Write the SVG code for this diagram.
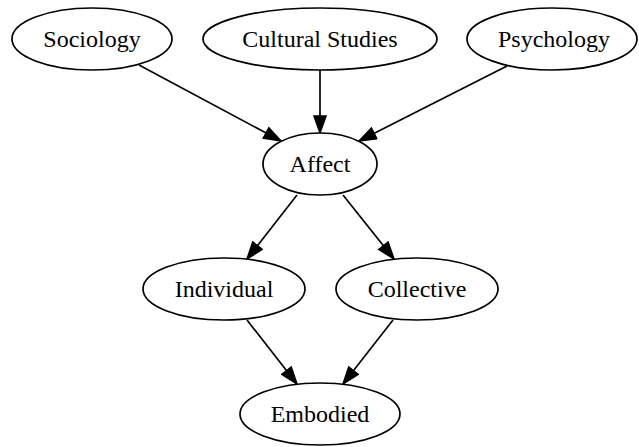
<svg xmlns="http://www.w3.org/2000/svg" width="639" height="447" viewBox="0 0 639 447">
<style>
.node ellipse{fill:#fff;stroke:#000;stroke-width:1.7}
.node text{font-family:"Liberation Serif","Times New Roman",serif;font-size:24px;text-anchor:middle;fill:#000}
.edges line{stroke:#000;stroke-width:1.7;marker-end:url(#arr)}
</style>
<defs>
<marker id="arr" markerUnits="userSpaceOnUse" markerWidth="20" markerHeight="14" viewBox="0 0 18 14" refX="17" refY="7" orient="auto">
<path d="M0,1 L17,7 L0,13 Z" fill="#000" stroke="#000" stroke-width="1.5"/>
</marker>
</defs>
<rect width="639" height="447" fill="#fff"/>
<g class="edges">
<line x1="139" y1="65" x2="281" y2="141"/>
<line x1="320" y1="70" x2="320" y2="133"/>
<line x1="507" y1="66" x2="359" y2="141"/>
<line x1="297" y1="195" x2="247" y2="259"/>
<line x1="343" y1="195" x2="394" y2="259"/>
<line x1="247" y1="320" x2="297" y2="384"/>
<line x1="393" y1="320" x2="343" y2="384"/>
</g>
<g class="node" id="sociology"><ellipse cx="92" cy="39" rx="80" ry="31"/><text x="92" y="47">Sociology</text></g>
<g class="node" id="cultural"><ellipse cx="320" cy="39" rx="117" ry="31"/><text x="320" y="47">Cultural Studies</text></g>
<g class="node" id="psychology"><ellipse cx="552" cy="39" rx="85" ry="31"/><text x="554" y="47">Psychology</text></g>
<g class="node" id="affect"><ellipse cx="320" cy="164" rx="57" ry="31"/><text x="320" y="172">Affect</text></g>
<g class="node" id="individual"><ellipse cx="224" cy="289" rx="81" ry="31"/><text x="224" y="297">Individual</text></g>
<g class="node" id="collective"><ellipse cx="417" cy="289" rx="81" ry="31"/><text x="417" y="297">Collective</text></g>
<g class="node" id="embodied"><ellipse cx="320" cy="414" rx="80" ry="31"/><text x="320" y="422">Embodied</text></g>
</svg>
